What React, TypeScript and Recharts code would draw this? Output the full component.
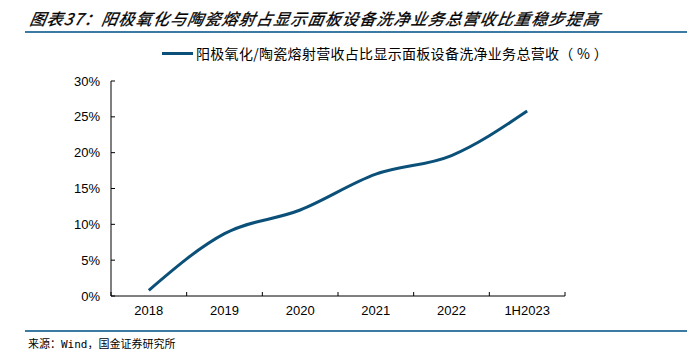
import { CartesianGrid, Line, LineChart, XAxis, YAxis } from "recharts";

const categories = ["2018", "2019", "2020", "2021", "2022", "1H2023"];
const share = [0.8, 8.7, 12.0, 17.0, 19.6, 25.8];
const yTicks = [0, 5, 10, 15, 20, 25, 30];

const seriesName = "阳极氧化/陶瓷熔射营收占比显示面板设备洗净业务总营收（ % ）";
const title = "图表37：阳极氧化与陶瓷熔射占显示面板设备洗净业务总营收比重稳步提高";
const source = "来源：Wind，国金证券研究所";

const data = categories.map((name, i) => ({ name, share: share[i] }));

const W = 695;
const H = 330;
const margin = { top: 81, right: 130, left: 61, bottom: 4 };
const Y_W = 50;
const plotW = W - margin.left - margin.right - Y_W;
const band = plotW / categories.length;
const lineColor = "#0b5079";
const frameColor = "#3d7aa3";
const sans = "'Liberation Sans', Arial, sans-serif";

function XTick(props: any) {
  const { x, y, payload, index } = props;
  const top = y - 8;
  return (
    <g>
      <line x1={x - band / 2} x2={x - band / 2} y1={top} y2={top - 4} stroke="#000" />
      {index === categories.length - 1 && (
        <line x1={x + band / 2} x2={x + band / 2} y1={top} y2={top - 4} stroke="#000" />
      )}
      <text x={x} y={y + 11} textAnchor="middle" fontSize={13} fill="#000" fontFamily={sans}>
        {payload.value}
      </text>
    </g>
  );
}

export default function App() {
  return (
    <div style={{ position: "relative", width: W, height: 357, margin: -8, background: "#fff" }}>
      <div
        style={{
          position: "absolute",
          left: 28,
          top: 6,
          fontSize: 16,
          letterSpacing: 1.2,
          fontStyle: "italic",
          fontFamily: "'Noto Sans CJK SC', sans-serif",
          color: "#000",
          whiteSpace: "nowrap",
          transform: "skewX(-10deg)",
          transformOrigin: "left bottom",
          WebkitTextStroke: "0.3px #000",
        }}
      >
        {title}
      </div>
      <div style={{ position: "absolute", left: 25, top: 31, width: 662, height: 2, background: frameColor }} />
      <div
        style={{
          position: "absolute",
          left: 162,
          top: 43,
          display: "flex",
          alignItems: "center",
          fontFamily: "'Noto Sans CJK SC', sans-serif",
          fontSize: 14,
          letterSpacing: 0.3,
          color: "#000",
          whiteSpace: "pre",
        }}
      >
        <span style={{ display: "inline-block", width: 31, height: 3, background: lineColor, marginRight: 3 }} />
        {seriesName}
      </div>
      <div style={{ position: "absolute", left: 0, top: 0 }}>
        <LineChart width={W} height={H} data={data} margin={margin}>
          <CartesianGrid stroke="none" />
          <XAxis
            dataKey="name"
            interval={0}
            padding={{ left: band / 2, right: band / 2 }}
            axisLine={{ stroke: "#000" }}
            tickLine={false}
            height={30}
            tick={<XTick />}
          />
          <YAxis
            domain={[0, 30]}
            ticks={yTicks}
            interval={0}
            width={Y_W}
            axisLine={{ stroke: "#000" }}
            tickLine={{ stroke: "#000" }}
            tickSize={-4}
            tickMargin={15}
            tickFormatter={(v) => `${v}%`}
            tick={{ fill: "#000", fontSize: 13, fontFamily: sans }}
          />
          <Line
            type="monotone"
            dataKey="share"
            stroke={lineColor}
            strokeWidth={3}
            dot={false}
            isAnimationActive={false}
          />
        </LineChart>
      </div>
      <div style={{ position: "absolute", left: 25, top: 330, width: 662, height: 2, background: frameColor }} />
      <div
        style={{
          position: "absolute",
          left: 28,
          top: 335,
          fontSize: 11,
          fontFamily: "'DejaVu Sans Mono', 'Noto Sans CJK SC', monospace",
          color: "#000",
          whiteSpace: "nowrap",
        }}
      >
        {source}
      </div>
    </div>
  );
}
